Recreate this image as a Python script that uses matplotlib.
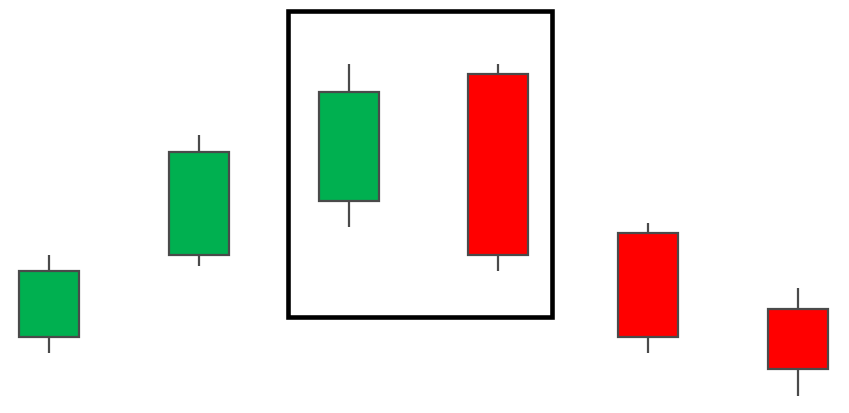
import matplotlib
matplotlib.use("Agg")
import matplotlib.pyplot as plt
from matplotlib.patches import Rectangle

# Candle data (arbitrary price units)
opens  = [78, 160, 214, 341, 182, 106]
closes = [144, 263, 323, 160, 78, 46]
highs  = [160, 280, 351, 351, 192, 127]
lows   = [62, 149, 188, 144, 62, 19]
# highlighted pattern spans candles 2..3 (0-based)
highlight = (2, 3)

up_color = "#00b050"
down_color = "#ff0000"
edge_color = "#4a4a4a"

fig = plt.figure(figsize=(8.49, 4.14), dpi=100)
ax = fig.add_axes([0, 0, 1, 1])
ax.set_xlim(-49 / 149.8, 800 / 149.8)
ax.set_ylim(1.5, 415.5)
ax.axis("off")

width = 0.4
for i, (o, c, h, l) in enumerate(zip(opens, closes, highs, lows)):
    color = up_color if c >= o else down_color
    lo_b, hi_b = min(o, c), max(o, c)
    ax.plot([i, i], [hi_b, h], color=edge_color, lw=1.6, solid_capstyle="butt", zorder=1)
    ax.plot([i, i], [l, lo_b], color=edge_color, lw=1.6, solid_capstyle="butt", zorder=1)
    ax.add_patch(Rectangle((i - width / 2, lo_b), width, hi_b - lo_b,
                           facecolor=color, edgecolor=edge_color, lw=1.6, zorder=2))

# highlight box around the pattern
a, b = highlight
pad = 0.407
box_low = min(lows[a:b + 1]) - 46
box_high = max(highs[a:b + 1]) + 53
ax.add_patch(Rectangle((a - pad, box_low), (b - a) + 2 * pad - 0.05, box_high - box_low,
                       facecolor="none", edgecolor="black", lw=3.3, zorder=3))

fig.savefig("out.png", dpi=100)
